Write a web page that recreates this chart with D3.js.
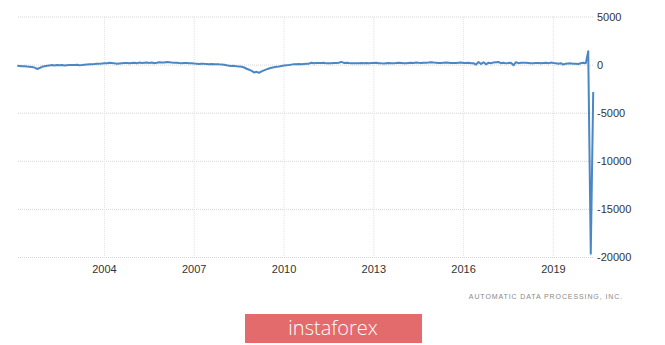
<!DOCTYPE html>
<html>
<head>
<meta charset="utf-8">
<script src="https://cdn.jsdelivr.net/npm/d3@7"></script>
<style>
  body { margin: 0; background: #fff; }
  svg { display: block; font-family: "Liberation Sans", Arial, sans-serif; }
</style>
</head>
<body>
<svg width="665" height="345"></svg>
<script>
// ADP employment change (thousands), monthly, Feb 2001 .. May 2020
var startYear = 2001, startMonth = 1; // Feb 2001 (0-based month)
var values = [
  // 2001 (Feb-Dec)
  -60, -90, -120, -110, -150, -170, -200, -260, -400, -300, -180,
  // 2002
  -120, -60, -30, 0, -40, 20, -10, 10, -40, -20, 0, 20,
  // 2003
  10, 30, -20, 0, 40, 60, 80, 100, 120, 150, 140, 160,
  // 2004
  200, 180, 250, 220, 180, 150, 170, 190, 210, 230, 200, 220,
  // 2005
  240, 200, 260, 220, 250, 280, 230, 270, 200, 240, 300, 260,
  // 2006
  280, 330, 300, 260, 240, 250, 220, 200, 230, 210, 180, 190,
  // 2007
  160, 140, 120, 150, 130, 120, 100, 110, 90, 100, 80, 70,
  // 2008
  40, -20, -60, -100, -80, -120, -150, -180, -250, -380, -480, -600,
  // 2009
  -760, -700, -800, -650, -550, -450, -360, -280, -220, -180, -150, -100,
  // 2010
  -50, -20, 0, 50, 100, 80, 120, 90, 110, 130, 150, 250,
  // 2011
  200, 220, 210, 230, 250, 180, 200, 190, 220, 210, 240, 330,
  // 2012
  230, 250, 220, 200, 180, 190, 200, 210, 190, 220, 200, 230,
  // 2013
  220, 240, 200, 180, 170, 200, 210, 190, 180, 220, 240, 230,
  // 2014
  200, 190, 220, 240, 230, 260, 240, 230, 240, 250, 270, 300,
  // 2015
  260, 240, 220, 230, 250, 260, 240, 210, 230, 220, 250, 270,
  // 2016
  220, 230, 240, 200, 190, 60, 320, 120, 300, 80, 250, 200,
  // 2017
  280, 300, 320, 200, 250, 180, 220, 240, -20, 300, 200, 250,
  // 2018
  240, 250, 230, 200, 190, 210, 220, 190, 230, 240, 200, 260,
  // 2019
  220, 190, 150, 200, 60, 150, 170, 180, 130, 140, 120, 200,
  // 2020 (Jan-May)
  250, 200, 1450, -19600, -2800
];
var yTicks = [5000, 0, -5000, -10000, -15000, -20000];
var xTickYears = [2004, 2007, 2010, 2013, 2016, 2019];
var sourceText = 'AUTOMATIC DATA PROCESSING, INC.';
var brandText = 'instaforex';

var data = values.map(function(v, i) {
  return { date: new Date(startYear, startMonth + i, 1), value: v };
});

var svg = d3.select('svg');

var xScale = d3.scaleTime()
  .domain([new Date(2001, 0, 1), new Date(2021, 0, 1)])
  .range([14.7, 613.3]);
var yScale = d3.scaleLinear()
  .domain([-20000, 5000])
  .range([257.5, 17]);

var plotLeft = 18, plotRight = 594;

// horizontal grid
svg.append('g').selectAll('line')
  .data(yTicks).enter()
  .append('line')
  .attr('x1', plotLeft).attr('x2', plotRight)
  .attr('y1', function(d) { return yScale(d); })
  .attr('y2', function(d) { return yScale(d); })
  .attr('stroke', '#d4d4d4')
  .attr('stroke-dasharray', '1,1');

// vertical grid
svg.append('g').selectAll('line')
  .data(xTickYears).enter()
  .append('line')
  .attr('x1', function(d) { return xScale(new Date(d, 0, 1)); })
  .attr('x2', function(d) { return xScale(new Date(d, 0, 1)); })
  .attr('y1', yScale(5000)).attr('y2', yScale(-20000))
  .attr('stroke', '#e2e2e2')
  .attr('stroke-dasharray', '1,1');

// y labels (right side)
svg.append('g').selectAll('text')
  .data(yTicks).enter()
  .append('text')
  .attr('x', 597)
  .attr('y', function(d) { return yScale(d); })
  .attr('dy', '0.35em')
  .attr('font-size', 11)
  .attr('fill', '#333')
  .text(function(d) { return d; });

// x labels
svg.append('g').selectAll('text')
  .data(xTickYears).enter()
  .append('text')
  .attr('x', function(d) { return xScale(new Date(d, 0, 1)); })
  .attr('y', 273)
  .attr('text-anchor', 'middle')
  .attr('font-size', 11)
  .attr('fill', '#333')
  .text(function(d) { return d; });

// line
var line = d3.line()
  .x(function(d) { return xScale(d.date); })
  .y(function(d) { return yScale(d.value); });

svg.append('path')
  .datum(data)
  .attr('d', line)
  .attr('fill', 'none')
  .attr('stroke', '#4a87c4')
  .attr('stroke-width', 2)
  .attr('stroke-linejoin', 'round');

// source
svg.append('text')
  .attr('x', 623)
  .attr('y', 299)
  .attr('text-anchor', 'end')
  .attr('font-size', 7)
  .attr('letter-spacing', 0.9)
  .attr('fill', '#8a8a8a')
  .text(sourceText);

// brand button
svg.append('rect')
  .attr('x', 245).attr('y', 314)
  .attr('width', 177).attr('height', 29)
  .attr('fill', '#e46b6c');
svg.append('text')
  .attr('x', 333)
  .attr('y', 335)
  .attr('text-anchor', 'middle')
  .attr('font-size', 20)
  .attr('font-family', '"Open Sans", sans-serif')
  .attr('font-weight', 300)
  .attr('fill', '#fff')
  .text(brandText);
</script>
</body>
</html>
